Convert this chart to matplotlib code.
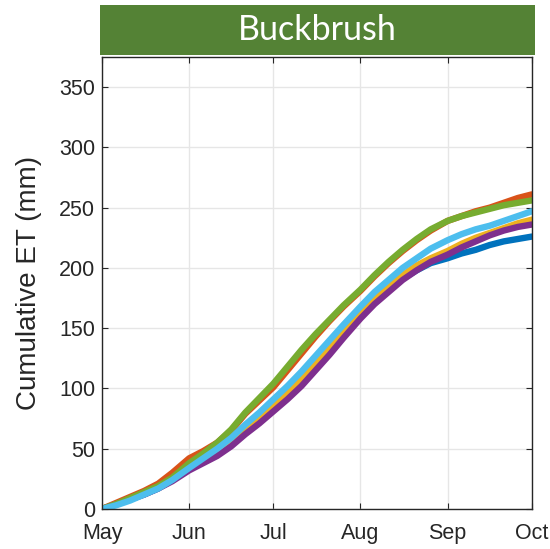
import matplotlib.pyplot as plt
from matplotlib.patches import Rectangle

# day of season (0 = 1 May) at which each curve was sampled
dias = [0, 5, 10, 15, 20, 25, 31, 36, 41, 46, 51, 56, 61, 66, 71, 76,
        81, 86, 92, 97, 102, 107, 112, 117, 123, 128, 133, 138, 143, 148, 153]

# cumulative ET (mm) for each run
et_azul = [0, 4, 8, 12, 17, 24, 34, 40, 46, 54, 64, 73, 84, 94, 105, 118,
           131, 145, 160, 172, 182, 191, 198, 204, 208, 212, 215, 219, 222, 224, 226]
et_laranja = [0, 5, 10, 15, 21, 30, 42, 48, 55, 65, 79, 90, 101, 115, 129, 143,
              156, 168, 181, 193, 204, 214, 223, 231, 239, 243, 247, 250, 254, 258, 261]
et_amarelo = [0, 4, 8, 13, 18, 25, 35, 41, 48, 56, 66, 75, 85, 96, 108, 120,
              133, 147, 162, 174, 184, 194, 202, 208, 214, 220, 225, 229, 233, 237, 240]
et_roxo = [0, 4, 8, 12, 17, 23, 32, 38, 44, 52, 62, 71, 81, 91, 102, 115,
           128, 142, 158, 170, 180, 190, 198, 205, 211, 217, 222, 227, 231, 234, 236]
et_verde = [0, 4, 9, 14, 19, 26, 38, 46, 55, 66, 80, 92, 104, 118, 132, 145,
            157, 169, 182, 194, 205, 215, 224, 232, 239, 243, 246, 249, 252, 254, 256]
et_ciano = [0, 3, 7, 12, 17, 24, 34, 42, 50, 59, 70, 80, 91, 102, 114, 127,
            140, 153, 168, 180, 190, 200, 208, 216, 223, 228, 232, 235, 239, 243, 247]

meses_pos = [0, 31, 61, 92, 123, 153]
meses = ['May', 'Jun', 'Jul', 'Aug', 'Sep', 'Oct']
y_ticks = [0, 50, 100, 150, 200, 250, 300, 350]

series = [
    (et_azul, '#0072BD'),
    (et_laranja, '#D95319'),
    (et_amarelo, '#EDB120'),
    (et_roxo, '#7E2F8E'),
    (et_verde, '#77AC30'),
    (et_ciano, '#4DBEEE'),
]

plt.rcParams['font.family'] = ['Liberation Sans', 'DejaVu Sans']

fig = plt.figure(figsize=(5.5, 5.49), dpi=100)
ax = fig.add_axes([0.1855, 0.0729, 0.7815, 0.8233])

for valores, cor in series:
    ax.plot(dias, valores, color=cor, linewidth=4.6, solid_capstyle='round',
            solid_joinstyle='round')

ax.set_xlim(0, 153)
ax.set_ylim(0, 375)
ax.set_xticks(meses_pos)
ax.set_xticklabels(meses)
ax.set_yticks(y_ticks)
ax.grid(True, color='#e6e6e6', linewidth=1)
ax.set_axisbelow(True)
ax.tick_params(direction='in', length=4, width=0.8, colors='#262626',
               labelsize=15.5, top=True, right=True)
ax.tick_params(axis='x', pad=10)
ax.tick_params(axis='y', pad=5)
for lado in ax.spines.values():
    lado.set_color('#262626')
    lado.set_linewidth(1)
ax.set_ylabel('Cumulative ET (mm)', fontsize=20, color='#262626', labelpad=12)

# green title banner
fig.patches.append(Rectangle((100 / 550, 1 - 55 / 549), 435 / 550, 50 / 549,
                             transform=fig.transFigure, facecolor='#548235',
                             edgecolor='none'))
fig.text(317 / 550, 1 - 30 / 549, 'Buckbrush', ha='center', va='center',
         color='white', fontsize=24.5, family=['Lato', 'DejaVu Sans'])

fig.savefig('out.png', dpi=100)
